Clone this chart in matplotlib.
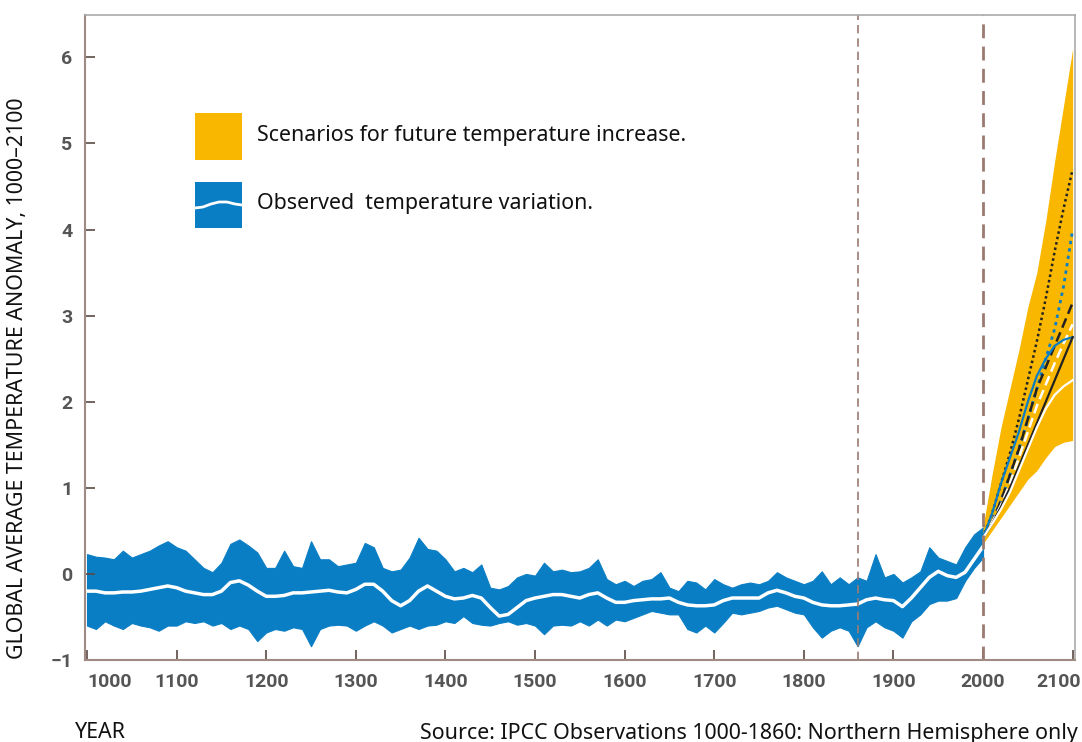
import matplotlib
matplotlib.use("Agg")
import matplotlib.pyplot as plt
import matplotlib.transforms as mtransforms
from matplotlib.patches import Rectangle

# observed record, read every 10 years
obs_years = list(range(1000, 2001, 10))
obs_upper = [0.23, 0.20, 0.19, 0.17, 0.27, 0.19, 0.23, 0.27, 0.33, 0.38,
             0.31, 0.27, 0.17, 0.07, 0.02, 0.13, 0.35, 0.40, 0.33, 0.25,
             0.07, 0.07, 0.27, 0.09, 0.07, 0.38, 0.17, 0.17, 0.09, 0.11,
             0.13, 0.36, 0.31, 0.07, 0.03, 0.05, 0.19, 0.42, 0.29, 0.27,
             0.17, 0.03, 0.07, 0.02, 0.11, -0.16, -0.18, -0.14, -0.04, 0.00,
             -0.02, 0.13, 0.03, 0.05, 0.02, 0.03, 0.07, 0.17, -0.06, -0.12,
             -0.08, -0.14, -0.08, -0.06, 0.02, -0.16, -0.20, -0.08, -0.10, -0.18,
             -0.06, -0.12, -0.16, -0.12, -0.10, -0.12, -0.08, 0.02, -0.04, -0.08,
             -0.12, -0.08, 0.03, -0.12, -0.04, -0.12, -0.04, -0.08, 0.23, -0.04,
             0.00, -0.10, -0.04, 0.03, 0.31, 0.19, 0.15, 0.11, 0.31, 0.46,
             0.54]
obs_lower = [-0.60, -0.64, -0.55, -0.60, -0.64, -0.57, -0.60, -0.62, -0.66, -0.60,
             -0.60, -0.55, -0.57, -0.55, -0.60, -0.57, -0.64, -0.60, -0.64, -0.78,
             -0.68, -0.64, -0.66, -0.62, -0.64, -0.84, -0.64, -0.60, -0.59, -0.60,
             -0.66, -0.60, -0.55, -0.60, -0.68, -0.64, -0.60, -0.64, -0.60, -0.59,
             -0.55, -0.57, -0.49, -0.57, -0.59, -0.60, -0.57, -0.55, -0.59, -0.57,
             -0.60, -0.70, -0.60, -0.59, -0.60, -0.55, -0.60, -0.53, -0.60, -0.53,
             -0.55, -0.51, -0.47, -0.43, -0.45, -0.47, -0.47, -0.64, -0.68, -0.60,
             -0.68, -0.57, -0.45, -0.47, -0.45, -0.43, -0.39, -0.37, -0.41, -0.45,
             -0.47, -0.62, -0.74, -0.66, -0.62, -0.66, -0.84, -0.62, -0.55, -0.62,
             -0.66, -0.74, -0.55, -0.47, -0.35, -0.31, -0.31, -0.28, -0.08, 0.07,
             0.19]
obs_smooth = [-0.20, -0.20, -0.22, -0.22, -0.21, -0.21, -0.20, -0.18, -0.16, -0.14,
              -0.16, -0.20, -0.22, -0.24, -0.24, -0.20, -0.10, -0.08, -0.13, -0.20,
              -0.26, -0.26, -0.25, -0.22, -0.22, -0.21, -0.20, -0.19, -0.21, -0.22,
              -0.18, -0.12, -0.12, -0.20, -0.31, -0.37, -0.31, -0.20, -0.14, -0.20,
              -0.26, -0.29, -0.28, -0.25, -0.28, -0.39, -0.49, -0.47, -0.39, -0.31,
              -0.28, -0.26, -0.24, -0.24, -0.26, -0.28, -0.24, -0.22, -0.28, -0.33,
              -0.33, -0.31, -0.30, -0.29, -0.29, -0.28, -0.33, -0.36, -0.37, -0.37,
              -0.36, -0.31, -0.28, -0.28, -0.28, -0.28, -0.22, -0.19, -0.22, -0.26,
              -0.28, -0.33, -0.36, -0.37, -0.37, -0.36, -0.35, -0.30, -0.28, -0.30,
              -0.31, -0.38, -0.28, -0.16, -0.04, 0.03, -0.02, -0.04, 0.02, 0.17,
              0.32]

# projections 2000-2100
proj_years = list(range(2000, 2101, 10))
fan_upper = [0.55, 1.15, 1.70, 2.15, 2.60, 3.10, 3.50, 4.10, 4.80, 5.45, 6.10]
fan_lower = [0.35, 0.50, 0.65, 0.80, 0.95, 1.10, 1.20, 1.35, 1.48, 1.53, 1.55]
sc_black_dotted = [0.42, 0.70, 1.05, 1.40, 1.80, 2.25, 2.70, 3.20, 3.75, 4.25, 4.70]
sc_blue_dotted = [0.42, 0.60, 0.85, 1.15, 1.45, 1.80, 2.15, 2.50, 2.85, 3.35, 4.00]
sc_black_dashed = [0.42, 0.60, 0.85, 1.15, 1.45, 1.80, 2.15, 2.40, 2.65, 2.90, 3.15]
sc_white_dashed = [0.42, 0.60, 0.80, 1.05, 1.35, 1.65, 1.95, 2.20, 2.45, 2.68, 2.90]
sc_blue_solid = [0.42, 0.70, 1.05, 1.35, 1.65, 2.00, 2.30, 2.50, 2.65, 2.72, 2.75]
sc_black_solid = [0.42, 0.58, 0.78, 1.00, 1.25, 1.50, 1.75, 2.00, 2.25, 2.50, 2.75]
sc_white_solid = [0.42, 0.58, 0.75, 0.95, 1.20, 1.45, 1.70, 1.92, 2.08, 2.18, 2.25]

x_ticks = list(range(1000, 2101, 100))
y_ticks = [-1, 0, 1, 2, 3, 4, 5, 6]

BLUE = "#0a7ec4"
ORANGE = "#f9b700"
BROWN = "#9a7a70"

plt.rcParams["font.family"] = ["Noto Sans", "DejaVu Sans"]

fig = plt.figure(figsize=(10.82, 7.42), dpi=100)
ax = fig.add_axes([0.0786, 0.1105, 0.915, 0.869])

ax.fill_between(obs_years, obs_lower, obs_upper, color=BLUE, lw=0.8,
                edgecolor=BLUE)
ax.plot(obs_years, obs_smooth, color="white", lw=2.5, solid_joinstyle="round")

ax.fill_between(proj_years, fan_lower, fan_upper, color=ORANGE, lw=0)
ax.plot(proj_years, sc_black_dotted, color="#222222", ls=(0, (1, 1.2)), lw=1.8)
ax.plot(proj_years, sc_blue_dotted, color=BLUE, ls=(0, (1.2, 1.5)), lw=2)
ax.plot(proj_years, sc_black_dashed, color="#222222", ls=(0, (4, 2)), lw=1.8)
ax.plot(proj_years, sc_white_dashed, color="white", ls=(0, (4, 2)), lw=1.8)
ax.plot(proj_years, sc_blue_solid, color=BLUE, lw=1.6)
ax.plot(proj_years, sc_black_solid, color="#222222", lw=1.6)
ax.plot(proj_years, sc_white_solid, color="white", lw=1.6)

ax.axvline(1860, color=BROWN, ls=(0, (5, 3)), lw=1.2)
ax.axvline(2000, color=BROWN, ls=(0, (5, 3)), lw=2)

ax.set_xlim(997.8, 2102.7)
ax.set_ylim(-1, 6.49)
ax.set_xticks(x_ticks)
ax.set_yticks(y_ticks)
ax.tick_params(direction="in", length=7, width=1.2, color="#5a4a44",
               labelcolor="#555555", labelsize=14, pad=9)
for lab in ax.get_xticklabels() + ax.get_yticklabels():
    lab.set_family(["Liberation Sans Narrow", "Roboto", "DejaVu Sans"])
    lab.set_fontweight("bold")
xlabs = ax.get_xticklabels()
xlabs[0].set_horizontalalignment("left")
xlabs[-1].set_horizontalalignment("right")
xlabs[-1].set_transform(xlabs[-1].get_transform() +
                        mtransforms.ScaledTranslation(0.08, 0, fig.dpi_scale_trans))
for side in ["left", "bottom"]:
    ax.spines[side].set_color("#a08a84")
    ax.spines[side].set_linewidth(1.5)
for side in ["top", "right"]:
    ax.spines[side].set_color("#aaaaaa")
    ax.spines[side].set_linewidth(1.2)

# legend drawn by hand, in figure pixels
W, H = 1082, 742
fig.add_artist(Rectangle((195 / W, 1 - 160 / H), 47 / W, 47 / H,
                         transform=fig.transFigure, color=ORANGE, lw=0))
fig.add_artist(Rectangle((195 / W, 1 - 228 / H), 47 / W, 46 / H,
                         transform=fig.transFigure, color=BLUE, lw=0))
wave_x = [195, 203, 211, 219, 227, 235, 242]
wave_y = [208, 207, 204, 202, 202, 204, 205]
fig.add_artist(plt.Line2D([v / W for v in wave_x], [1 - v / H for v in wave_y],
                          transform=fig.transFigure, color="white", lw=2))
fig.text(257 / W, 1 - 136 / H, "Scenarios for future temperature increase.",
         fontsize=15.4, va="center", ha="left", color="#111111")
fig.text(257 / W, 1 - 204 / H, "Observed  temperature variation.",
         fontsize=15.4, va="center", ha="left", color="#111111")

fig.text(18 / W, 1 - 378 / H, "GLOBAL AVERAGE TEMPERATURE ANOMALY, 1000–2100",
         rotation=90, fontsize=15.4, va="center", ha="center", color="#111111")
fig.text(75 / W, 1 - 733 / H, "YEAR", fontsize=15.4, va="center", ha="left",
         color="#111111")
fig.text(1078 / W, 1 - 733 / H,
         "Source: IPCC Observations 1000-1860: Northern Hemisphere only",
         fontsize=15.4, va="center", ha="right", color="#111111")

fig.savefig("out.png", dpi=100)
